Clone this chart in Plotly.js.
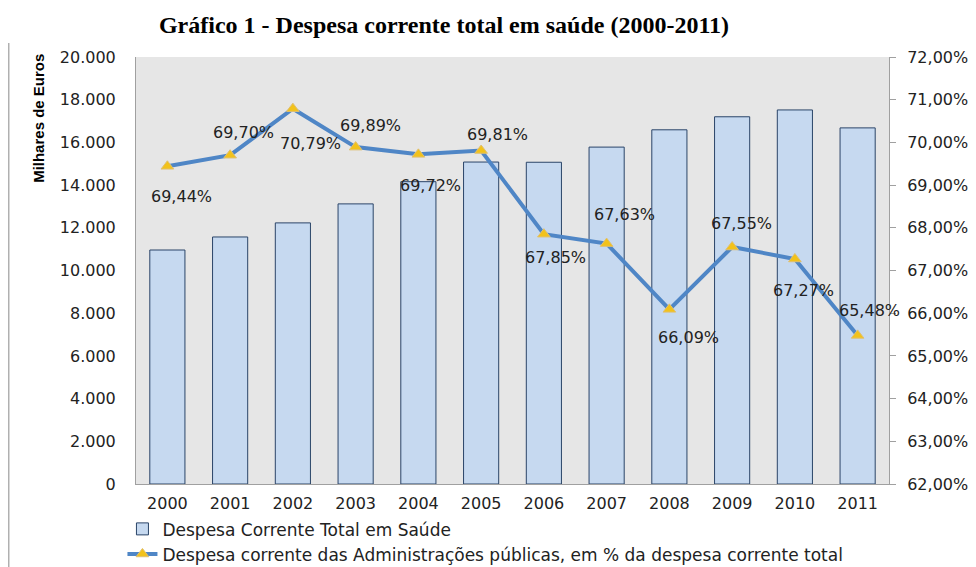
<!DOCTYPE html>
<html>
<head>
<meta charset="utf-8">
<script src="https://cdn.plot.ly/plotly-3.0.1.min.js"></script>
<style>html,body{margin:0;padding:0;background:#fff;}#chart{width:976px;height:567px;}</style>
</head>
<body>
<div id="chart"></div>
<script>
// ---- data ----
const years = ["2000","2001","2002","2003","2004","2005","2006","2007","2008","2009","2010","2011"];
const despesaTotal = [10960, 11570, 12230, 13120, 14160, 15080, 15070, 15780, 16590, 17200, 17520, 16680];
const pctAdmPublicas = [69.44, 69.70, 70.79, 69.89, 69.72, 69.81, 67.85, 67.63, 66.09, 67.55, 67.27, 65.48];
const barName = "Despesa Corrente Total em Saúde";
const lineName = "Despesa corrente das Administrações públicas, em % da despesa corrente total";
const chartTitle = "Gráfico 1 - Despesa corrente total em saúde (2000-2011)";
const yTitle = "Milhares de Euros";

// label offsets (styling, px)
const labelShift = [[14,-30],[13,23],[18,-35],[15,22],[12,-31],[16,16],[12,-23],[18,29],[19,-28],[9,24],[9,-32],[12,25]];

const fmt = v => v.toFixed(2).replace('.', ',') + '%';

const bars = {
  type: 'bar', x: years, y: despesaTotal, name: barName,
  marker: {color: '#c6d9f0', line: {color: '#2a4468', width: 1}},
  width: 0.56, yaxis: 'y', hoverinfo: 'skip'
};
const line = {
  type: 'scatter', mode: 'lines+markers', x: years, y: pctAdmPublicas, name: lineName,
  yaxis: 'y2',
  line: {color: '#4f86c6', width: 4},
  marker: {symbol: 'triangle-up', size: 11, color: '#f2c21b', line: {color: '#e0c070', width: 1}}
};

const annotations = years.map((yr, i) => ({
  x: i, y: pctAdmPublicas[i], xref: 'x', yref: 'y2',
  text: fmt(pctAdmPublicas[i]), showarrow: false,
  xanchor: 'center', yanchor: 'middle',
  xshift: labelShift[i][0], yshift: labelShift[i][1],
  font: {family: 'DejaVu Sans', size: 16, color: '#222'}
}));
annotations.push({
  text: '<b>' + yTitle + '</b>', xref: 'paper', yref: 'paper',
  x: (38 - 136) / 752, y: (484 - 118) / 427, xanchor: 'center', yanchor: 'middle',
  textangle: -90, showarrow: false,
  font: {family: 'Liberation Sans Narrow, Arial Narrow, Liberation Sans', size: 15, color: '#000'}
});

const layout = {
  width: 976, height: 567,
  margin: {l: 136, r: 87, t: 57, b: 83, pad: 0, autoexpand: false},
  paper_bgcolor: '#ffffff', plot_bgcolor: '#e6e6e6',
  separators: ',.',
  title: {text: '<b>' + chartTitle + '</b>', x: 444/976, xanchor: 'center', y: 1 - 25/567, yanchor: 'middle',
          font: {family: 'Liberation Serif, Times New Roman, serif', size: 24, color: '#000'}},
  showlegend: true,
  legend: {orientation: 'v', x: -0.018, y: -0.064, xanchor: 'left', yanchor: 'top',
           font: {family: 'DejaVu Sans', size: 17, color: '#222'}, tracegroupgap: 0,
           bgcolor: 'rgba(0,0,0,0)'},
  bargap: 0.44,
  xaxis: {type: 'category', range: [-0.5, 11.5], autorange: false, showgrid: false, zeroline: false,
          showline: true, linecolor: '#a0a0a0', linewidth: 1,
          ticks: '', ticklabelstandoff: 5, tickfont: {family: 'DejaVu Sans', size: 16, color: '#222'}},
  yaxis: {range: [0, 20000], dtick: 2000, tickformat: ',.0f', showgrid: false, zeroline: false,
          showline: true, linecolor: '#a0a0a0', linewidth: 1, ticks: '', ticklabelstandoff: 16,
          tickfont: {family: 'DejaVu Sans', size: 16, color: '#222'}},
  yaxis2: {overlaying: 'y', side: 'right', range: [62, 72], dtick: 1, tickformat: '.2f', ticksuffix: '%',
           showgrid: false, zeroline: false, showline: true, linecolor: '#a0a0a0', linewidth: 1,
           ticks: 'outside', ticklen: 6, tickcolor: '#a0a0a0', ticklabelstandoff: 8,
           tickfont: {family: 'DejaVu Sans', size: 16, color: '#222'}},
  shapes: [{type: 'line', xref: 'paper', yref: 'paper', x0: (9-136)/752, x1: (9-136)/752,
            y0: (484-43)/427, y1: (484-567)/427, line: {color: '#8a8a8a', width: 1}}],
  annotations: annotations
};

Plotly.newPlot('chart', [bars, line], layout, {displayModeBar: false, staticPlot: true});
</script>
</body>
</html>
